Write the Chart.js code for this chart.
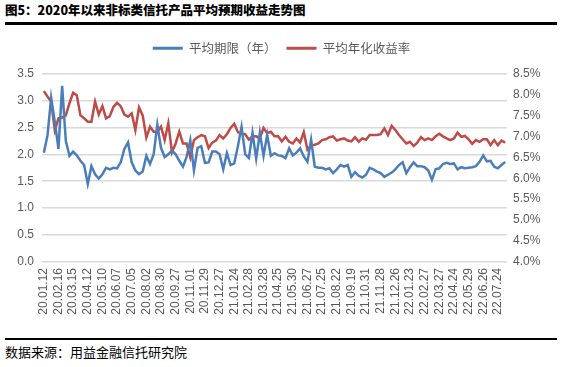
<!DOCTYPE html>
<html>
<head>
<meta charset="utf-8">
<script src="https://cdn.jsdelivr.net/npm/chart.js@4.4.1/dist/chart.umd.min.js"></script>
<style>
  body { margin: 0; width: 563px; height: 367px; background: #fff; position: relative; overflow: hidden;
         font-family: "Noto Sans CJK SC", sans-serif; }
  #title { position: absolute; left: 5px; top: 1px; font-size: 12.5px; font-weight: 900; color: #000; line-height: 18px; }
  .rule { position: absolute; left: 5px; width: 552px; background: #000; }
  #source { position: absolute; left: 5px; top: 343px; font-size: 13px; color: #000; line-height: 18px; }
  #box { position: absolute; left: 0; top: 30px; width: 563px; height: 300px; }
</style>
</head>
<body>
<div id="title">图5：2020年以来非标类信托产品平均预期收益走势图</div>
<div class="rule" style="top:22px;height:3px"></div>
<div id="box"><canvas id="chart"></canvas></div>
<div class="rule" style="top:338px;height:2px"></div>
<div id="source">数据来源：用益金融信托研究院</div>
<script>
// weekly dates, a week dropped around holidays
const weeks = [
  '20.01.12','20.01.19','20.02.02','20.02.09','20.02.16','20.02.23','20.03.01','20.03.08',
  '20.03.15','20.03.22','20.03.29','20.04.05','20.04.12','20.04.19','20.04.26','20.05.03',
  '20.05.10','20.05.17','20.05.24','20.05.31','20.06.07','20.06.14','20.06.21','20.06.28',
  '20.07.05','20.07.12','20.07.19','20.07.26','20.08.02','20.08.09','20.08.16','20.08.23',
  '20.08.30','20.09.06','20.09.13','20.09.20','20.09.27','20.10.11','20.10.18','20.10.25',
  '20.11.01','20.11.08','20.11.15','20.11.22','20.11.29','20.12.06','20.12.13','20.12.20',
  '20.12.27','21.01.03','21.01.10','21.01.17','21.01.24','21.01.31','21.02.07','21.02.21',
  '21.02.28','21.03.07','21.03.14','21.03.21','21.03.28','21.04.04','21.04.11','21.04.18',
  '21.04.25','21.05.09','21.05.16','21.05.23','21.05.30','21.06.06','21.06.13','21.06.20',
  '21.06.27','21.07.04','21.07.11','21.07.18','21.07.25','21.08.01','21.08.08','21.08.15',
  '21.08.22','21.08.29','21.09.05','21.09.12','21.09.19','21.10.10','21.10.17','21.10.24',
  '21.10.31','21.11.07','21.11.14','21.11.21','21.11.28','21.12.05','21.12.12','21.12.19',
  '21.12.26','22.01.02','22.01.09','22.01.16','22.01.23','22.01.30','22.02.13','22.02.20',
  '22.02.27','22.03.06','22.03.13','22.03.20','22.03.27','22.04.03','22.04.10','22.04.17',
  '22.04.24','22.05.08','22.05.15','22.05.22','22.05.29','22.06.05','22.06.12','22.06.19',
  '22.06.26','22.07.03','22.07.10','22.07.17','22.07.24','22.07.31','22.08.07'
];

// 平均期限（年）
const avgTerm = [
  2.03, 2.35, 3.05, 2.6, 2.1, 3.27, 2.25, 1.97, 2.05, 1.98, 1.88, 1.8, 1.45, 1.78, 1.63, 1.55,
  1.63, 1.75, 1.72, 1.75, 1.74, 1.85, 2.1, 2.22, 1.85, 1.7, 1.63, 1.68, 1.97, 1.82, 2.0, 2.55,
  2.12, 1.95, 2.0, 2.07, 2.0, 1.88, 1.77, 1.95, 2.26, 1.7, 2.12, 2.15, 1.84, 1.85, 2.05, 2.05,
  2.0, 1.72, 2.02, 1.8, 1.83, 2.15, 2.51, 2.0, 1.93, 2.4, 1.92, 2.4, 1.97, 2.36, 1.97, 2.02,
  1.98, 1.97, 1.93, 2.11, 1.98, 2.03, 2.11, 1.96, 1.86, 2.27, 1.77, 1.75, 1.75, 1.72, 1.74, 1.65,
  1.72, 1.8, 1.77, 1.8, 1.58, 1.67, 1.6, 1.57, 1.62, 1.75, 1.72, 1.68, 1.65, 1.58, 1.62, 1.66,
  1.72, 1.8, 1.85, 1.65, 1.76, 1.85, 1.78, 1.78, 1.76, 1.7, 1.53, 1.72, 1.74, 1.82, 1.84, 1.82,
  1.83, 1.72, 1.76, 1.74, 1.75, 1.76, 1.78, 1.86, 1.98, 1.87, 1.88, 1.77, 1.74, 1.8, 1.86
];

// 平均年化收益率 (%)
const avgYield = [
  8.08, 7.95, 7.83, 7.15, 7.43, 7.45, 7.5, 7.79, 8.04, 7.98, 7.5, 7.43, 7.35, 7.35, 7.83, 7.52,
  7.72, 7.43, 7.48, 7.7, 7.8, 7.72, 7.52, 7.47, 7.55, 7.15, 7.69, 7.5, 6.97, 7.23, 7.11, 7.11,
  7.23, 6.91, 7.31, 6.62, 6.83, 7.11, 6.83, 6.83, 6.5, 6.91, 6.98, 7.03, 7.0, 6.72, 6.85, 6.9,
  7.03, 6.95, 7.05, 7.2, 7.3, 7.1, 7.06, 7.05, 6.92, 7.0, 7.0, 6.95, 7.2, 7.08, 7.11, 7.0,
  7.0, 6.88, 6.99, 6.87, 6.83, 6.95, 6.85, 7.1, 6.68, 6.79, 6.8, 6.83, 6.91, 6.93, 6.98, 7.0,
  6.9, 6.93, 6.95, 6.9, 6.88, 6.98, 6.87, 6.95, 6.92, 7.03, 7.03, 7.03, 7.05, 7.19, 7.03, 7.25,
  7.15, 7.03, 6.93, 6.83, 6.87, 6.77, 6.85, 6.98, 6.91, 6.95, 6.91, 7.0, 7.06, 7.0, 6.95, 6.91,
  6.95, 7.09, 6.99, 7.01, 6.93, 6.82, 6.91, 6.87, 6.93, 6.93, 6.79, 6.91, 6.79, 6.9, 6.85
];

const blue = '#4a7ebb';
const red = '#be4b48';
const tickFont = { family: '"Liberation Sans", Arial, sans-serif', size: 12 };
const tickColor = '#595959';

// extra gap under the legend so the plot starts lower
const legendGap = {
  id: 'legendGap',
  beforeLayout(chart) {
    const lg = chart.legend;
    if (lg && !lg._gapPatched) {
      const fit = lg.fit;
      lg.fit = function () { fit.call(this); this.height += 9; };
      lg._gapPatched = true;
    }
  }
};

new Chart(document.getElementById('chart'), {
  type: 'line',
  data: {
    labels: weeks,
    datasets: [
      { label: '平均期限（年）', data: avgTerm, yAxisID: 'y', borderColor: blue, backgroundColor: blue,
        borderWidth: 2.5, pointRadius: 0, tension: 0 },
      { label: '平均年化收益率', data: avgYield, yAxisID: 'y1', borderColor: red, backgroundColor: red,
        borderWidth: 2.5, pointRadius: 0, tension: 0 }
    ]
  },
  plugins: [legendGap],
  options: {
    responsive: true,
    maintainAspectRatio: false,
    animation: false,
    layout: { padding: { top: 2, left: 0, right: 0, bottom: 0 } },
    plugins: {
      tooltip: { enabled: false },
      legend: {
        position: 'top',
        labels: {
          boxWidth: 30,
          boxHeight: 3,
          color: tickColor,
          font: { family: '"Noto Sans CJK SC", sans-serif', size: 12.5 },
          generateLabels: chart => Chart.defaults.plugins.legend.labels.generateLabels(chart)
            .map(item => ({ ...item, lineWidth: 0 }))
        }
      }
    },
    scales: {
      x: {
        offset: true,
        grid: { display: false, drawTicks: false },
        border: { display: false },
        ticks: {
          autoSkip: false, minRotation: 90, maxRotation: 90, padding: 6,
          font: tickFont, color: tickColor,
          callback: (v, i) => i % 4 === 0 ? weeks[i] : ''
        },
        afterFit: s => { s.height = 68; }
      },
      y: {
        position: 'left', min: 0, max: 3.5,
        grid: { color: '#d9d9d9', lineWidth: 1.5, drawTicks: false },
        border: { display: false },
        ticks: { stepSize: 0.5, padding: 8, font: tickFont, color: tickColor, callback: v => v.toFixed(1) },
        afterFit: s => { s.width = 42; }
      },
      y1: {
        position: 'right', min: 4, max: 8.5,
        grid: { display: false, drawTicks: false },
        border: { display: false },
        ticks: { stepSize: 0.5, padding: 6, font: tickFont, color: tickColor, callback: v => v.toFixed(1) + '%' },
        afterFit: s => { s.width = 56; }
      }
    }
  }
});
</script>
</body>
</html>
